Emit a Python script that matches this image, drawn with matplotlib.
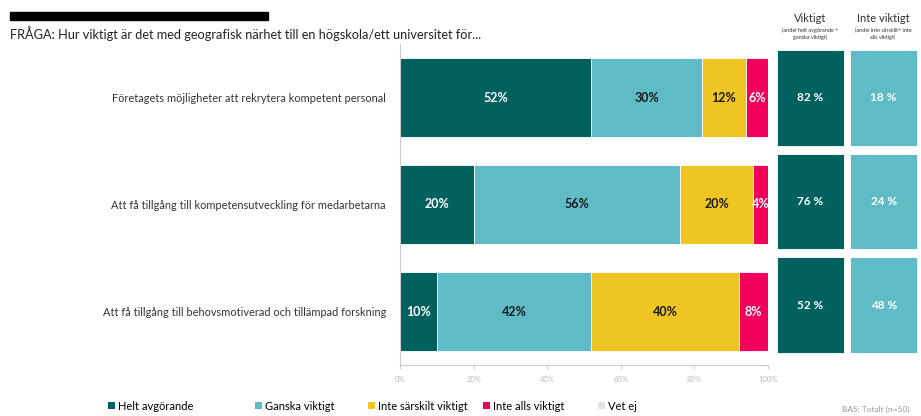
import matplotlib.pyplot as plt
from matplotlib.patches import Patch

plt.rcParams['font.family'] = ['Lato', 'DejaVu Sans']

categories = [
    'Företagets möjligheter att rekrytera kompetent personal',
    'Att få tillgång till kompetensutveckling för medarbetarna',
    'Att få tillgång till behovsmotiverad och tillämpad forskning',
]
series_names = ['Helt avgörande', 'Ganska viktigt', 'Inte särskilt viktigt', 'Inte alls viktigt', 'Vet ej']
helt = [52, 20, 10]
ganska = [30, 56, 42]
inte_sarskilt = [12, 20, 40]
inte_alls = [6, 4, 8]
vet_ej = [0, 0, 0]
viktigt = [82, 76, 52]
inte_viktigt = [18, 24, 48]

colors = ['#00615f', '#5fbcc6', '#efc523', '#f0005a', '#e3e3e3']
text_colors = ['white', '#1a1a1a', '#1a1a1a', 'white', '#1a1a1a']

W, H = 921, 416
fig = plt.figure(figsize=(W / 100, H / 100), dpi=100)

def box(x0, y0, x1, y1):
    return [x0 / W, 1 - y1 / H, (x1 - x0) / W, (y1 - y0) / H]

# title remnant bar + question
fig.patches.append(plt.Rectangle((10 / W, 1 - 20 / H), 258 / W, 8 / H,
                                 transform=fig.transFigure, color='black'))
fig.text(10 / W, 1 - 34 / H,
         'FRÅGA: Hur viktigt är det med geografisk närhet till en högskola/ett universitet för...',
         fontsize=9.2, color='#222222', va='center')

# main stacked bars
ax = fig.add_axes(box(400, 44, 768, 365))
ypos = list(range(len(categories)))
data = [helt, ganska, inte_sarskilt, inte_alls, vet_ej]
left = [0] * len(categories)
for vals, name, c, tc in zip(data, series_names, colors, text_colors):
    bars = ax.barh(ypos, vals, left=left, height=0.74, color=c, edgecolor='white', linewidth=0.6)
    for b, v in zip(bars, vals):
        if v > 0:
            ax.text(b.get_x() + b.get_width() / 2, b.get_y() + b.get_height() / 2, f'{v}%',
                    ha='center', va='center', fontsize=9, fontweight='bold', color=tc)
    left = [l + v for l, v in zip(left, vals)]

ax.set_xlim(0, 100)
ax.set_ylim(2.5, -0.5)
ax.set_yticks(ypos)
ax.set_yticklabels(categories, fontsize=7.9, color='#333333')
ax.tick_params(axis='y', length=0, pad=10)
ax.set_xticks(range(0, 101, 20))
ax.set_xticklabels([f'{t}%' for t in range(0, 101, 20)], fontsize=5.5, color='#bbbbbb')
ax.tick_params(axis='x', length=3, color='#cccccc', pad=5)
for s in ['top', 'right']:
    ax.spines[s].set_visible(False)
ax.spines['left'].set_color('#cccccc')
ax.spines['bottom'].set_color('#cccccc')

# summary boxes
ax2 = fig.add_axes(box(777, 46, 917, 357))
for vals, x0, c in [(viktigt, 0, colors[0]), (inte_viktigt, 1.1, colors[1])]:
    bs = ax2.barh(ypos, [1] * len(vals), left=x0, height=0.92, color=c, edgecolor='white', linewidth=0.6)
    for b, v in zip(bs, vals):
        ax2.text(b.get_x() + 0.5, b.get_y() + b.get_height() / 2, f'{v} %',
                 ha='center', va='center', fontsize=8.5, fontweight='bold', color='white')
ax2.set_xlim(0, 2.1)
ax2.set_ylim(2.5, -0.5)
ax2.axis('off')

fig.text(810 / W, 1 - 19 / H, 'Viktigt', fontsize=8, color='#333333', ha='center', va='center')
fig.text(810 / W, 1 - 34 / H, '(andel helt avgörande +\nganska viktigt)', fontsize=4,
         color='#333333', ha='center', va='center', linespacing=1.3)
fig.text(883 / W, 1 - 19 / H, 'Inte viktigt', fontsize=8, color='#333333', ha='center', va='center')
fig.text(883 / W, 1 - 34 / H, '(andel inte särskilt+ inte\nalls viktigt)', fontsize=4,
         color='#333333', ha='center', va='center', linespacing=1.3)

# legend items
leg_x = [108, 255, 368, 483, 598]
for name, c, x in zip(series_names, colors, leg_x):
    fig.legend(handles=[Patch(facecolor=c)], labels=[name], loc='center left',
               bbox_to_anchor=(x / W, 1 - 406 / H), frameon=False, fontsize=8,
               handlelength=0.6, handleheight=0.6, handletextpad=0.3, borderpad=0, borderaxespad=0)

fig.text(910 / W, 1 - 409 / H, 'BAS: Totalt (n=50)', fontsize=6, color='#999999', ha='right', va='center')

fig.savefig('out.png', dpi=100)
